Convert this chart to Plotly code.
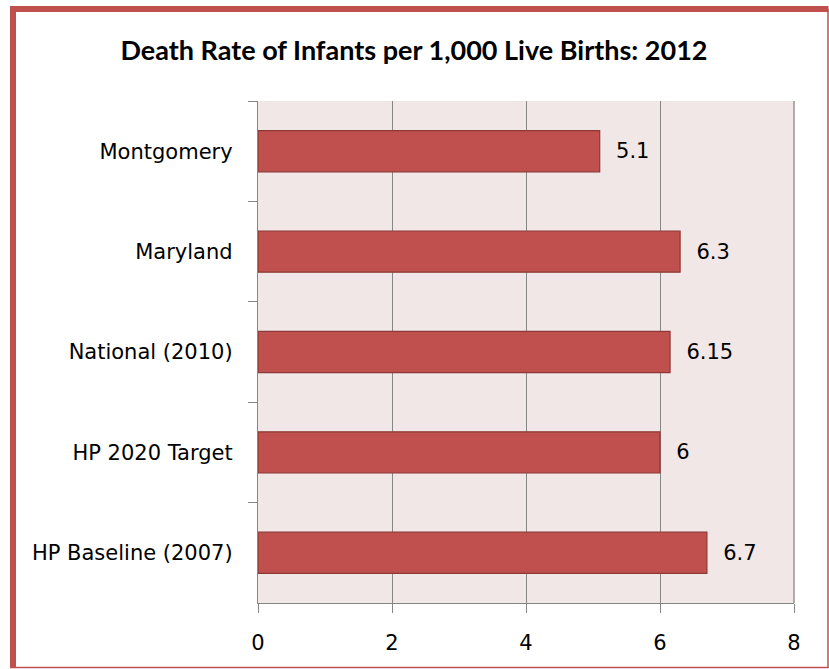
import plotly.graph_objects as go

categories = ["Montgomery", "Maryland", "National (2010)", "HP 2020 Target", "HP Baseline (2007)"]
values = [5.1, 6.3, 6.15, 6, 6.7]
value_labels = ["5.1", "6.3", "6.15", "6", "6.7"]
x_ticks = [0, 2, 4, 6, 8]
title_text = "Death Rate of Infants per 1,000 Live Births: 2012"

LABEL_FONT = "DejaVu Sans"
TITLE_FONT = "Lato"

# plot area geometry (pixels)
L, R, T, B = 258, 794, 101, 603
W, H = 829, 669
PW, PH = R - L, B - T


def px(x):
    return (x - L) / PW


def py(y):
    return (B - y) / PH


fig = go.Figure()
fig.add_trace(go.Bar(
    y=categories,
    x=values,
    orientation="h",
    marker=dict(color="#C0504D", line=dict(color="#8C3836", width=1.2)),
    width=0.41,
    text=["  " + t for t in value_labels],
    textposition="outside",
    textfont=dict(family=LABEL_FONT, size=21, color="#000000"),
    cliponaxis=False,
    hoverinfo="skip",
))

fig.update_layout(
    width=W,
    height=H,
    margin=dict(l=L, r=W - R, t=T, b=H - B),
    paper_bgcolor="#FFFFFF",
    plot_bgcolor="#F2E7E7",
    showlegend=False,
    title=dict(
        text="<b>" + title_text + "</b>",
        x=414 / W, xref="container", xanchor="center",
        y=1 - 51 / H, yref="container", yanchor="middle",
        font=dict(family=TITLE_FONT, size=27, color="#000000"),
    ),
    xaxis=dict(
        range=[0, 8],
        tickvals=x_ticks,
        ticktext=[str(v) for v in x_ticks],
        showgrid=True,
        gridcolor="#868686",
        gridwidth=1.3,
        zeroline=False,
        showline=True,
        linecolor="#868686",
        linewidth=1.3,
        ticks="outside",
        ticklen=9,
        tickcolor="#868686",
        tickwidth=1.3,
        ticklabelstandoff=12,
        tickfont=dict(family=LABEL_FONT, size=21, color="#000000"),
        fixedrange=True,
    ),
    yaxis=dict(
        type="category",
        autorange="reversed",
        showgrid=False,
        zeroline=False,
        showline=True,
        linecolor="#868686",
        linewidth=1.3,
        ticks="outside",
        tickson="boundaries",
        ticklen=9,
        tickcolor="#868686",
        tickwidth=1.3,
        ticklabelstandoff=20,
        tickfont=dict(family=LABEL_FONT, size=21, color="#000000"),
        fixedrange=True,
    ),
    shapes=[
        dict(type="line", xref="paper", yref="paper", x0=1, x1=1, y0=0, y1=1,
             line=dict(color="#868686", width=1.3)),
        # outer chart border
        dict(type="line", xref="paper", yref="paper",
             x0=px(13), x1=px(13), y0=py(668), y1=py(6),
             line=dict(color="#C0504D", width=6)),
        dict(type="line", xref="paper", yref="paper",
             x0=px(10), x1=px(828.5), y0=py(9), y1=py(9),
             line=dict(color="#C0504D", width=6)),
        dict(type="line", xref="paper", yref="paper",
             x0=px(828), x1=px(828), y0=py(668), y1=py(9),
             line=dict(color="#C0504D", width=1.5)),
        dict(type="line", xref="paper", yref="paper",
             x0=px(10), x1=px(828.5), y0=py(667.5), y1=py(667.5),
             line=dict(color="#C0504D", width=1.5)),
    ],
)

fig.write_html("out.html", config={"displayModeBar": False},
               post_script="document.body.style.margin='0';")
